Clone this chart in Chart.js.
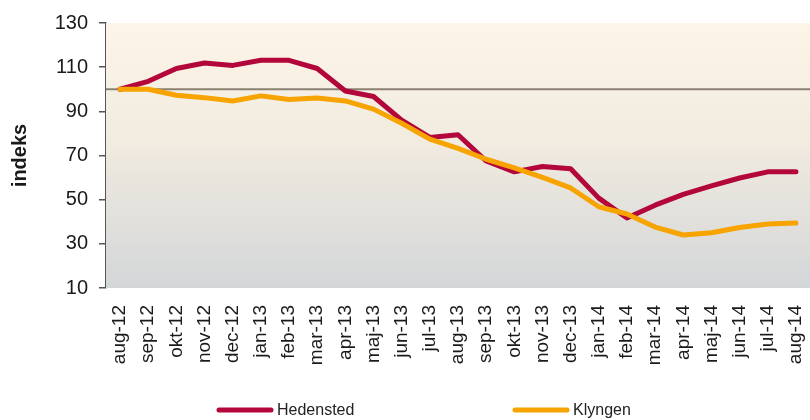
<!DOCTYPE html>
<html>
<head>
<meta charset="utf-8">
<script src="https://cdn.jsdelivr.net/npm/chart.js@4.4.0/dist/chart.umd.min.js"></script>
<style>
  html, body { margin: 0; padding: 0; background: #fff; }
  #wrap { width: 810px; height: 420px; }
</style>
</head>
<body>
<div id="wrap"><canvas id="c" width="810" height="420"></canvas></div>
<script>
// Data
const months = ['aug-12', 'sep-12', 'okt-12', 'nov-12', 'dec-12', 'jan-13', 'feb-13', 'mar-13',
    'apr-13', 'maj-13', 'jun-13', 'jul-13', 'aug-13', 'sep-13', 'okt-13', 'nov-13', 'dec-13',
    'jan-14', 'feb-14', 'mar-14', 'apr-14', 'maj-14', 'jun-14', 'jul-14', 'aug-14'];
const hedensted = [100, 103.6, 109.4, 111.9, 110.8, 113.1, 113.1, 109.4, 99.2, 96.7, 86, 78.2,
    79.4, 67.5, 62.6, 65, 64, 50.7, 41.7, 47.5, 52.4, 56.2, 59.8, 62.6, 62.6];
const klyngen = [100, 100, 97.3, 96.2, 94.7, 97, 95.4, 96, 94.7, 91, 84.6, 77.4,
    73.2, 68.3, 64.4, 60.1, 55.3, 46.8, 43.5, 37.6, 34, 35, 37.4, 39, 39.4];
const yTicks = [10, 30, 50, 70, 90, 110, 130];
const baseline = 100;

const FONT = "'Liberation Sans', Arial, sans-serif";

// Baggrund med gradient + referencelinje ved 100
const bgPlugin = {
    id: 'bgPlugin',
    beforeDatasetsDraw(chart) {
        const { ctx, chartArea: a, scales } = chart;
        const g = ctx.createLinearGradient(0, a.top, 0, a.bottom);
        g.addColorStop(0, '#fdf5e7');
        g.addColorStop(0.45, '#f1ebe0');
        g.addColorStop(1, '#d3d6d8');
        ctx.save();
        ctx.fillStyle = g;
        ctx.fillRect(a.left, a.top, a.right - a.left, a.bottom - a.top);
        const y = scales.y.getPixelForValue(baseline);
        ctx.strokeStyle = '#8a8172';
        ctx.lineWidth = 2;
        ctx.beginPath();
        ctx.moveTo(a.left, y);
        ctx.lineTo(a.right, y);
        ctx.stroke();
        ctx.restore();
    }
};

// Enkel legend tegnet nederst
const legendPlugin = {
    id: 'legendPlugin',
    afterDraw(chart) {
        const { ctx } = chart;
        const items = [
            { x: 217, ds: chart.data.datasets[0] },
            { x: 513, ds: chart.data.datasets[1] }
        ];
        ctx.save();
        items.forEach(it => {
            ctx.strokeStyle = it.ds.borderColor;
            ctx.lineWidth = 5;
            ctx.lineCap = 'round';
            ctx.beginPath();
            ctx.moveTo(it.x + 2, 410);
            ctx.lineTo(it.x + 54, 410);
            ctx.stroke();
            ctx.fillStyle = '#222';
            ctx.font = '16px ' + FONT;
            ctx.textBaseline = 'middle';
            ctx.fillText(it.ds.label, it.x + 60, 411);
        });
        ctx.restore();
    }
};

new Chart(document.getElementById('c'), {
    type: 'line',
    plugins: [bgPlugin, legendPlugin],
    data: {
        labels: months,
        datasets: [{
            label: 'Hedensted',
            data: hedensted,
            borderColor: '#b3063a',
            borderWidth: 5,
            pointRadius: 0,
            tension: 0,
            borderCapStyle: 'round',
            borderJoinStyle: 'round',
            order: 2
        }, {
            label: 'Klyngen',
            data: klyngen,
            borderColor: '#f7a300',
            borderWidth: 5,
            pointRadius: 0,
            tension: 0,
            borderCapStyle: 'round',
            borderJoinStyle: 'round',
            order: 1
        }]
    },
    options: {
        responsive: false,
        animation: false,
        layout: { padding: { top: 22, right: 0, bottom: 0, left: 0 } },
        plugins: {
            legend: { display: false },
            tooltip: { enabled: false }
        },
        scales: {
            x: {
                offset: true,
                grid: { display: false },
                border: { display: false },
                ticks: {
                    autoSkip: false,
                    minRotation: 90,
                    maxRotation: 90,
                    padding: 9,
                    color: '#1a1a1a',
                    font: { family: FONT, size: 19 }
                },
                afterFit(s) {
                    s.height = 132;
                    s.paddingLeft = 0;
                    s.paddingRight = 0;
                }
            },
            y: {
                min: 10,
                max: 130,
                afterBuildTicks(s) { s.ticks = yTicks.map(v => ({ value: v })); },
                grid: {
                    drawOnChartArea: false,
                    tickLength: 7,
                    color: '#555',
                    lineWidth: 1.5
                },
                border: { display: true, color: '#555', width: 1.5 },
                ticks: {
                    padding: 11,
                    color: '#1a1a1a',
                    font: { family: FONT, size: 20 }
                },
                title: {
                    display: true,
                    text: 'indeks',
                    color: '#1a1a1a',
                    font: { family: FONT, size: 20, weight: 'bold' },
                    padding: { top: 8, bottom: 0 }
                },
                afterFit(s) { s.width = 106; }
            }
        }
    }
});
</script>
</body>
</html>
